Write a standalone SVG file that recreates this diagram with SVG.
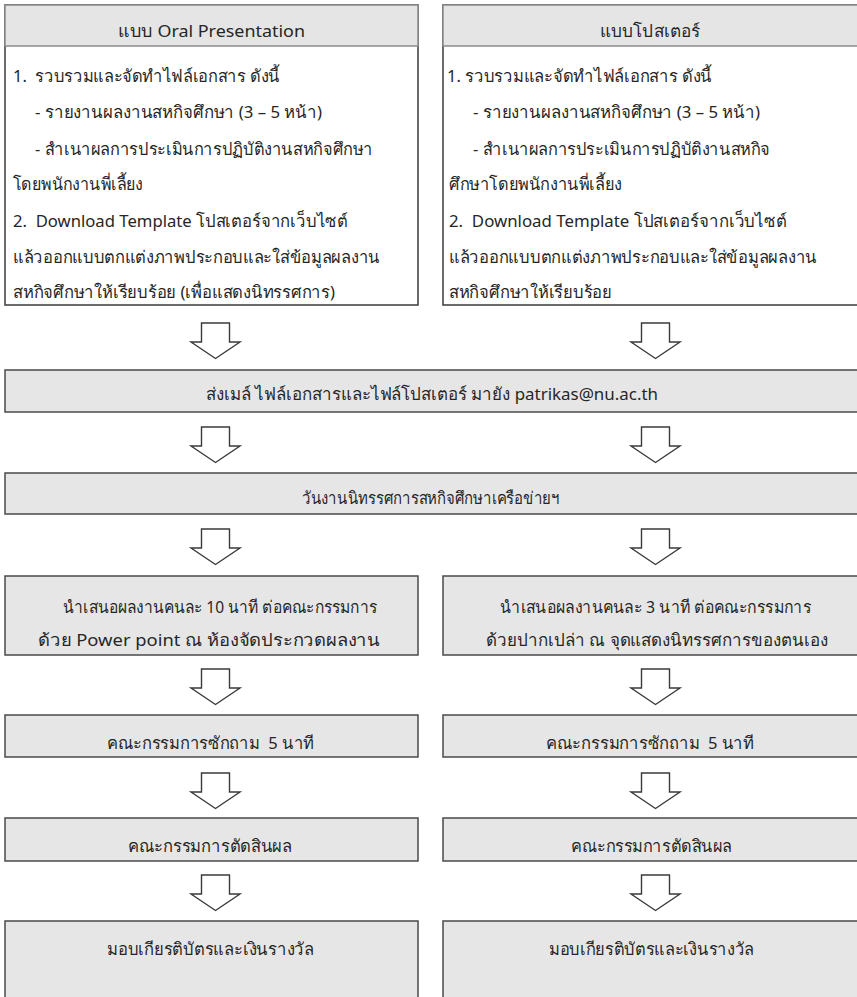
<svg xmlns="http://www.w3.org/2000/svg" width="857" height="997" viewBox="0 0 857 997">
<style>
text{font-family:"Noto Sans","DejaVu Sans",sans-serif;font-size:17px;fill:#262626;white-space:pre}
.box{fill:#e6e6e6;stroke:#4a4a4a;stroke-width:1.5}
.body{fill:#ffffff;stroke:#3a3a3a;stroke-width:1.5}
.hd{fill:#e5e5e5;stroke:#8a8a8a;stroke-width:1.5}
.arr{fill:#ffffff;stroke:#3a3a3a;stroke-width:1.4;stroke-linejoin:miter}
.c{text-anchor:middle}
</style>
<defs>
<path id="arw" class="arr" d="M-14,0 H14 V19 H24.5 L0,35.5 L-24.5,19 H-14 Z"/>
</defs>

<g id="oral-top">
<rect class="body" x="5" y="5" width="413" height="300"/>
<rect class="hd" x="5" y="5" width="413" height="41"/>
<text class="c" x="211.5" y="37" textLength="187" lengthAdjust="spacingAndGlyphs">แบบ Oral Presentation</text>
<text x="13" y="82" textLength="267" lengthAdjust="spacingAndGlyphs">1.  รวบรวมและจัดทำไฟล์เอกสาร ดังนี้</text>
<text x="35" y="118" textLength="287" lengthAdjust="spacingAndGlyphs">- รายงานผลงานสหกิจศึกษา (3 – 5 หน้า)</text>
<text x="35" y="155" textLength="338" lengthAdjust="spacingAndGlyphs">- สำเนาผลการประเมินการปฏิบัติงานสหกิจศึกษา</text>
<text x="13" y="190" textLength="130" lengthAdjust="spacingAndGlyphs">โดยพนักงานพี่เลี้ยง</text>
<text x="13" y="227" textLength="335" lengthAdjust="spacingAndGlyphs">2.  Download Template โปสเตอร์จากเว็บไซต์</text>
<text x="13" y="263" textLength="367" lengthAdjust="spacingAndGlyphs">แล้วออกแบบตกแต่งภาพประกอบและใส่ข้อมูลผลงาน</text>
<text x="13" y="298" textLength="322" lengthAdjust="spacingAndGlyphs">สหกิจศึกษาให้เรียบร้อย (เพื่อแสดงนิทรรศการ)</text>
</g>

<g id="poster-top">
<rect class="body" x="443" y="5" width="420" height="300"/>
<rect class="hd" x="443" y="5" width="420" height="41"/>
<text class="c" x="650" y="37" textLength="100" lengthAdjust="spacingAndGlyphs">แบบโปสเตอร์</text>
<text x="447" y="82" textLength="265" lengthAdjust="spacingAndGlyphs">1. รวบรวมและจัดทำไฟล์เอกสาร ดังนี้</text>
<text x="473" y="118" textLength="287" lengthAdjust="spacingAndGlyphs">- รายงานผลงานสหกิจศึกษา (3 – 5 หน้า)</text>
<text x="473" y="155" textLength="297" lengthAdjust="spacingAndGlyphs">- สำเนาผลการประเมินการปฏิบัติงานสหกิจ</text>
<text x="449" y="190" textLength="173" lengthAdjust="spacingAndGlyphs">ศึกษาโดยพนักงานพี่เลี้ยง</text>
<text x="449" y="227" textLength="338" lengthAdjust="spacingAndGlyphs">2.  Download Template โปสเตอร์จากเว็บไซต์</text>
<text x="449" y="263" textLength="368" lengthAdjust="spacingAndGlyphs">แล้วออกแบบตกแต่งภาพประกอบและใส่ข้อมูลผลงาน</text>
<text x="449" y="298" textLength="163" lengthAdjust="spacingAndGlyphs">สหกิจศึกษาให้เรียบร้อย</text>
</g>

<g id="send-mail">
<rect class="box" x="5" y="370" width="860" height="42"/>
<text x="206" y="400" textLength="452" lengthAdjust="spacingAndGlyphs">ส่งเมล์ ไฟล์เอกสารและไฟล์โปสเตอร์ มายัง patrikas@nu.ac.th</text>
</g>

<g id="expo-day">
<rect class="box" x="5" y="473" width="860" height="41"/>
<text x="302" y="504" textLength="258" lengthAdjust="spacingAndGlyphs">วันงานนิทรรศการสหกิจศึกษาเครือข่ายฯ</text>
</g>

<g id="oral-present">
<rect class="box" x="5" y="576" width="413" height="79"/>
<text x="63" y="613" textLength="314" lengthAdjust="spacingAndGlyphs">นำเสนอผลงานคนละ 10 นาที ต่อคณะกรรมการ</text>
<text x="38" y="646" textLength="342" lengthAdjust="spacingAndGlyphs">ด้วย Power point ณ ห้องจัดประกวดผลงาน</text>
</g>
<g id="poster-present">
<rect class="box" x="443" y="576" width="420" height="79"/>
<text x="500" y="613" textLength="311" lengthAdjust="spacingAndGlyphs">นำเสนอผลงานคนละ 3 นาที ต่อคณะกรรมการ</text>
<text x="486" y="646" textLength="342" lengthAdjust="spacingAndGlyphs">ด้วยปากเปล่า ณ จุดแสดงนิทรรศการของตนเอง</text>
</g>

<g id="oral-qa">
<rect class="box" x="5" y="715" width="413" height="42"/>
<text x="107" y="749" textLength="207" lengthAdjust="spacingAndGlyphs">คณะกรรมการซักถาม  5 นาที</text>
</g>
<g id="poster-qa">
<rect class="box" x="443" y="715" width="420" height="42"/>
<text x="546" y="749" textLength="208" lengthAdjust="spacingAndGlyphs">คณะกรรมการซักถาม  5 นาที</text>
</g>

<g id="oral-judge">
<rect class="box" x="5" y="818" width="413" height="43"/>
<text x="128" y="852" textLength="164" lengthAdjust="spacingAndGlyphs">คณะกรรมการตัดสินผล</text>
</g>
<g id="poster-judge">
<rect class="box" x="443" y="818" width="420" height="43"/>
<text x="571" y="852" textLength="161" lengthAdjust="spacingAndGlyphs">คณะกรรมการตัดสินผล</text>
</g>

<g id="oral-award">
<rect class="box" x="5" y="921" width="413" height="90"/>
<text x="107" y="955" textLength="207" lengthAdjust="spacingAndGlyphs">มอบเกียรติบัตรและเงินรางวัล</text>
</g>
<g id="poster-award">
<rect class="box" x="443" y="921" width="420" height="90"/>
<text x="549" y="955" textLength="205" lengthAdjust="spacingAndGlyphs">มอบเกียรติบัตรและเงินรางวัล</text>
</g>

<g id="connectors">
<use href="#arw" x="215.5" y="323"/>
<use href="#arw" x="655.5" y="323"/>
<use href="#arw" x="215.5" y="427"/>
<use href="#arw" x="655.5" y="427"/>
<use href="#arw" x="215.5" y="529"/>
<use href="#arw" x="655.5" y="529"/>
<use href="#arw" x="215.5" y="669"/>
<use href="#arw" x="655.5" y="669"/>
<use href="#arw" x="215.5" y="773"/>
<use href="#arw" x="655.5" y="773"/>
<use href="#arw" x="215.5" y="875"/>
<use href="#arw" x="655.5" y="875"/>
</g>
</svg>
